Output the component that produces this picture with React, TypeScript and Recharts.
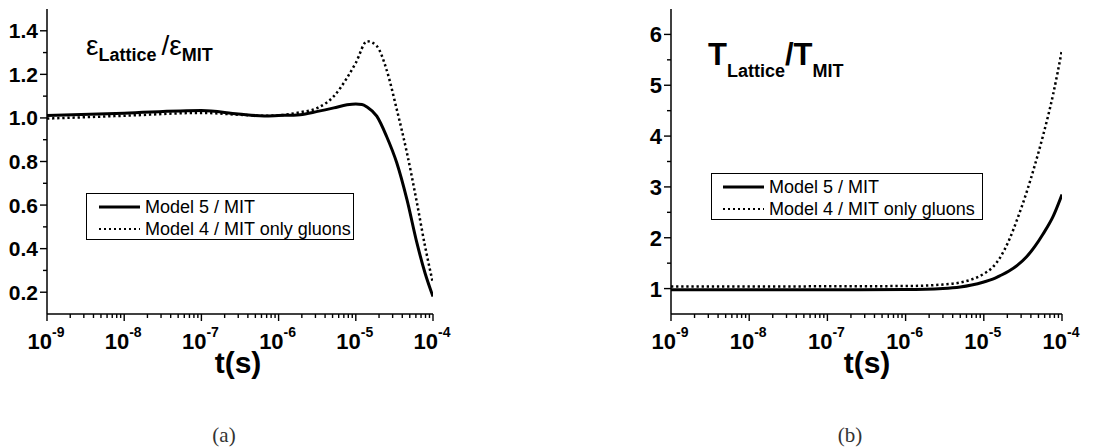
import React from 'react';
import { LineChart, Line, XAxis, YAxis, Legend } from 'recharts';

// ---------- data ----------
const timeEnergySolid = [1e-9, 1e-8, 1e-7, 3e-7, 6.5e-7, 1e-6, 1.9e-6, 3.2e-6, 5.2e-6, 7.7e-6, 1e-5, 1.2e-5, 1.4e-5, 1.87e-5, 2.5e-5, 3.4e-5, 4.6e-5, 6.2e-5, 7.9e-5, 1e-4];
const energyModel5 = [1.011, 1.022, 1.034, 1.018, 1.009, 1.011, 1.015, 1.03, 1.046, 1.06, 1.064, 1.062, 1.05, 1.008, 0.916, 0.793, 0.625, 0.425, 0.287, 0.18];

const timeEnergyDotted = [1e-9, 1e-8, 1e-7, 3e-7, 6.5e-7, 1e-6, 1.9e-6, 3.2e-6, 5.2e-6, 7.7e-6, 1e-5, 1.4e-5, 1.87e-5, 2.5e-5, 3.4e-5, 4.6e-5, 6.2e-5, 7.9e-5, 1e-4];
const energyModel4 = [0.997, 1.01, 1.023, 1.015, 1.01, 1.012, 1.026, 1.046, 1.1, 1.184, 1.253, 1.352, 1.33, 1.222, 1.038, 0.839, 0.609, 0.41, 0.241];

const timeTempSolid = [1e-9, 1e-8, 1e-7, 1e-6, 3e-6, 5e-6, 7e-6, 1e-5, 1.3e-5, 1.6e-5, 2.1e-5, 2.7e-5, 3.5e-5, 4.5e-5, 5.7e-5, 7.7e-5, 1e-4];
const tempModel5 = [0.975, 0.975, 0.975, 0.98, 1.0, 1.03, 1.07, 1.13, 1.185, 1.25, 1.345, 1.46, 1.62, 1.83, 2.07, 2.42, 2.85];

const timeTempDotted = [1e-9, 1e-8, 1e-7, 1e-6, 3e-6, 5e-6, 7e-6, 1e-5, 1.3e-5, 1.6e-5, 2.1e-5, 2.7e-5, 3.5e-5, 4.5e-5, 5.7e-5, 7.7e-5, 1e-4];
const tempModel4 = [1.04, 1.04, 1.045, 1.05, 1.08, 1.12, 1.18, 1.29, 1.42, 1.6, 1.95, 2.38, 2.88, 3.43, 4.0, 4.82, 5.7];

const seriesNames = ['Model 5 / MIT', 'Model 4 / MIT only gluons'];

const decadeTicks = [1e-9, 1e-8, 1e-7, 1e-6, 1e-5, 1e-4];
const minorMultipliers = [2, 3, 4, 5, 6, 7, 8, 9];
const xTicks = [
  ...decadeTicks,
  ...decadeTicks.slice(0, 5).flatMap((d) => minorMultipliers.map((m) => m * d)),
].sort((a, b) => a - b);

const energyMajorTicks = [0.2, 0.4, 0.6, 0.8, 1.0, 1.2, 1.4];
const energyMinorTicks = [0.3, 0.5, 0.7, 0.9, 1.1, 1.3];
const tempMajorTicks = [1, 2, 3, 4, 5, 6];
const tempMinorTicks = [1.5, 2.5, 3.5, 4.5, 5.5];

const toPoints = (xs: number[], ys: number[]) => xs.map((t, i) => ({ t, v: ys[i] }));

// ---------- styling ----------
const SANS = "'Liberation Sans', Arial, Helvetica, sans-serif";
const SERIF = "'Liberation Serif', 'DejaVu Serif', serif";

const XTick = (props: any) => {
  const { x, y, payload } = props;
  const v = payload.value as number;
  const exp = Math.round(Math.log10(v));
  const major = Math.abs(v - Math.pow(10, exp)) / v < 1e-6;
  return (
    <g>
      <line x1={x} x2={x} y1={y} y2={y + (major ? 7 : 4)} stroke="#000" strokeWidth={1.4} />
      {major && (
        <text x={x - 1} y={y + 35} textAnchor="middle" fontFamily={SANS} fontWeight="bold" fontSize={22} fill="#000">
          10
          <tspan fontSize={14} dy={-12}>{`${exp}`}</tspan>
        </text>
      )}
    </g>
  );
};

const makeYTick = (majors: number[], digits: number, fontSize: number) => (props: any) => {
  const { x, y, payload } = props;
  const v = payload.value as number;
  const major = majors.some((m) => Math.abs(m - v) < 1e-9);
  return (
    <g>
      <line x1={x} x2={x - (major ? 7 : 4)} y1={y} y2={y} stroke="#000" strokeWidth={1.4} />
      {major && (
        <text x={x - 9} y={y} dy="0.36em" textAnchor="end" fontFamily={SANS} fontWeight="bold" fontSize={fontSize} fill="#000">
          {v.toFixed(digits)}
        </text>
      )}
    </g>
  );
};

const makeLegend = (lineStart: number) => (props: any) => {
  const payload = [...(props.payload || [])].sort(
    (a: any, b: any) => seriesNames.indexOf(a.value) - seriesNames.indexOf(b.value)
  );
  return (
    <div
      style={{
        width: '100%',
        height: '100%',
        boxSizing: 'border-box',
        border: '1.3px solid #000',
        background: '#fff',
        paddingTop: 2,
      }}
    >
      {payload.map((entry: any, i: number) => {
        const dashed = entry.payload && entry.payload.strokeDasharray;
        return (
          <div key={i} style={{ display: 'flex', alignItems: 'center', height: 22, paddingLeft: lineStart }}>
            <svg width={41} height={10} style={{ display: 'block' }}>
              <line
                x1={0}
                x2={41}
                y1={5}
                y2={5}
                stroke="#000"
                strokeWidth={dashed ? 2.2 : 3.2}
                strokeDasharray={dashed ? '2 3' : undefined}
              />
            </svg>
            <span style={{ marginLeft: 5, fontFamily: SANS, fontSize: 18, color: '#000', lineHeight: '22px', whiteSpace: 'nowrap' }}>
              {entry.value}
            </span>
          </div>
        );
      })}
    </div>
  );
};

const axisLine = { stroke: '#000', strokeWidth: 1.5 };

export default function App() {
  return (
    <div style={{ position: 'absolute', left: 0, top: 0, width: 1111, height: 448, background: '#fff' }}>
      {/* Panel (a) */}
      <div style={{ position: 'absolute', left: 0, top: 0 }}>
        <LineChart width={560} height={448} margin={{ top: 9, right: 127, bottom: 0, left: 0 }}>
          <XAxis
            dataKey="t"
            type="number"
            scale="log"
            domain={[1e-9, 1e-4]}
            allowDataOverflow
            ticks={xTicks}
            interval={0}
            tick={XTick}
            tickLine={false}
            tickSize={0}
            tickMargin={0}
            axisLine={axisLine}
            height={134}
          />
          <YAxis
            type="number"
            domain={[0.1, 1.5]}
            allowDataOverflow
            ticks={[...energyMajorTicks, ...energyMinorTicks].sort((a, b) => a - b)}
            interval={0}
            tick={makeYTick(energyMajorTicks, 1, 21)}
            tickLine={false}
            tickSize={0}
            tickMargin={0}
            axisLine={axisLine}
            width={47}
          />
          <Legend
            layout="vertical"
            align="center"
            verticalAlign="middle"
            content={makeLegend(12)}
            wrapperStyle={{ left: 86, top: 193, width: 268, height: 47 }}
          />
          <Line
            data={toPoints(timeEnergySolid, energyModel5)}
            dataKey="v"
            name={seriesNames[0]}
            type="monotone"
            stroke="#000"
            strokeWidth={3}
            dot={false}
            isAnimationActive={false}
          />
          <Line
            data={toPoints(timeEnergyDotted, energyModel4)}
            dataKey="v"
            name={seriesNames[1]}
            type="monotone"
            stroke="#000"
            strokeWidth={2.5}
            strokeDasharray="2.3 2.8"
            dot={false}
            isAnimationActive={false}
          />
        </LineChart>
      </div>

      {/* Panel (b) */}
      <div style={{ position: 'absolute', left: 560, top: 0 }}>
        <LineChart width={551} height={448} margin={{ top: 9, right: 49, bottom: 0, left: 0 }}>
          <XAxis
            dataKey="t"
            type="number"
            scale="log"
            domain={[1e-9, 1e-4]}
            allowDataOverflow
            ticks={xTicks}
            interval={0}
            tick={XTick}
            tickLine={false}
            tickSize={0}
            tickMargin={0}
            axisLine={axisLine}
            height={134}
          />
          <YAxis
            type="number"
            domain={[0.5, 6.5]}
            allowDataOverflow
            ticks={[...tempMajorTicks, ...tempMinorTicks].sort((a, b) => a - b)}
            interval={0}
            tick={makeYTick(tempMajorTicks, 0, 22)}
            tickLine={false}
            tickSize={0}
            tickMargin={0}
            axisLine={axisLine}
            width={111}
          />
          <Legend
            layout="vertical"
            align="center"
            verticalAlign="middle"
            content={makeLegend(11)}
            wrapperStyle={{ left: 151, top: 173, width: 272, height: 47 }}
          />
          <Line
            data={toPoints(timeTempSolid, tempModel5)}
            dataKey="v"
            name={seriesNames[0]}
            type="monotone"
            stroke="#000"
            strokeWidth={3}
            dot={false}
            isAnimationActive={false}
          />
          <Line
            data={toPoints(timeTempDotted, tempModel4)}
            dataKey="v"
            name={seriesNames[1]}
            type="monotone"
            stroke="#000"
            strokeWidth={2.5}
            strokeDasharray="2.3 2.8"
            dot={false}
            isAnimationActive={false}
          />
        </LineChart>
      </div>

      {/* Text overlay: panel titles, axis titles, captions */}
      <svg width={1111} height={448} style={{ position: 'absolute', left: 0, top: 0, pointerEvents: 'none' }}>
        <text x={86} y={55} fontFamily={SANS} fill="#000">
          <tspan fontSize={28}>ε</tspan>
          <tspan fontSize={18} fontWeight="bold" dy={6}>Lattice</tspan>
          <tspan fontSize={28} dy={-6} dx={5}>/ε</tspan>
          <tspan fontSize={18} fontWeight="bold" dy={6}>MIT</tspan>
        </text>
        <text x={708} y={65} fontFamily={SANS} fontWeight="bold" fill="#000">
          <tspan fontSize={31}>T</tspan>
          <tspan fontSize={18} dy={12}>Lattice</tspan>
          <tspan fontSize={31} dy={-12}>/T</tspan>
          <tspan fontSize={18} dy={12}>MIT</tspan>
        </text>
        <text x={238} y={373} textAnchor="middle" fontFamily={SANS} fontWeight="bold" fontSize={30} fill="#000">t(s)</text>
        <text x={867} y={373} textAnchor="middle" fontFamily={SANS} fontWeight="bold" fontSize={30} fill="#000">t(s)</text>
        <text x={224} y={442} textAnchor="middle" fontFamily={SERIF} fontSize={21} fill="#333">(a)</text>
        <text x={850} y={442} textAnchor="middle" fontFamily={SERIF} fontSize={21} fill="#333">(b)</text>
      </svg>
    </div>
  );
}
